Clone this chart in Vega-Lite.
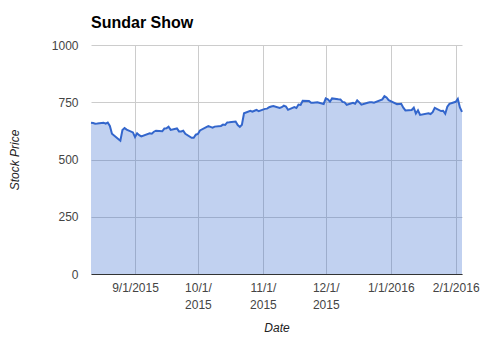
{
  "$schema": "https://vega.github.io/schema/vega-lite/v6.json",
  "autosize": "none",
  "width": 371,
  "height": 229,
  "padding": {"left": 91, "top": 45, "right": 28, "bottom": 63},
  "background": "white",
  "config": {
    "font": "Liberation Sans, Arial, sans-serif",
    "view": {"stroke": null}
  },
  "title": {
    "text": "Sundar Show",
    "anchor": "start",
    "frame": "group",
    "fontSize": 16,
    "fontWeight": "bold",
    "color": "#000000",
    "baseline": "alphabetic",
    "offset": -5
  },
  "data": {
    "values": [
      {"date": "2015-08-11", "price": 660.78},
      {"date": "2015-08-12", "price": 659.56},
      {"date": "2015-08-13", "price": 656.45},
      {"date": "2015-08-14", "price": 657.12},
      {"date": "2015-08-17", "price": 660.87},
      {"date": "2015-08-18", "price": 656.13},
      {"date": "2015-08-19", "price": 660.90},
      {"date": "2015-08-20", "price": 646.83},
      {"date": "2015-08-21", "price": 612.48},
      {"date": "2015-08-24", "price": 589.61},
      {"date": "2015-08-25", "price": 582.06},
      {"date": "2015-08-26", "price": 628.62},
      {"date": "2015-08-27", "price": 637.61},
      {"date": "2015-08-28", "price": 630.38},
      {"date": "2015-08-31", "price": 618.25},
      {"date": "2015-09-01", "price": 597.79},
      {"date": "2015-09-02", "price": 614.34},
      {"date": "2015-09-03", "price": 606.25},
      {"date": "2015-09-04", "price": 600.70},
      {"date": "2015-09-08", "price": 614.66},
      {"date": "2015-09-09", "price": 612.72},
      {"date": "2015-09-10", "price": 621.35},
      {"date": "2015-09-11", "price": 625.77},
      {"date": "2015-09-14", "price": 623.24},
      {"date": "2015-09-15", "price": 635.14},
      {"date": "2015-09-16", "price": 635.98},
      {"date": "2015-09-17", "price": 642.90},
      {"date": "2015-09-18", "price": 629.25},
      {"date": "2015-09-21", "price": 635.44},
      {"date": "2015-09-22", "price": 622.69},
      {"date": "2015-09-23", "price": 622.36},
      {"date": "2015-09-24", "price": 625.80},
      {"date": "2015-09-25", "price": 611.97},
      {"date": "2015-09-28", "price": 594.89},
      {"date": "2015-09-29", "price": 594.97},
      {"date": "2015-09-30", "price": 608.42},
      {"date": "2015-10-01", "price": 611.29},
      {"date": "2015-10-02", "price": 626.91},
      {"date": "2015-10-05", "price": 641.47},
      {"date": "2015-10-06", "price": 645.44},
      {"date": "2015-10-07", "price": 642.36},
      {"date": "2015-10-08", "price": 639.16},
      {"date": "2015-10-09", "price": 643.61},
      {"date": "2015-10-12", "price": 646.67},
      {"date": "2015-10-13", "price": 652.30},
      {"date": "2015-10-14", "price": 651.16},
      {"date": "2015-10-15", "price": 661.74},
      {"date": "2015-10-16", "price": 662.20},
      {"date": "2015-10-19", "price": 666.10},
      {"date": "2015-10-20", "price": 650.28},
      {"date": "2015-10-21", "price": 642.61},
      {"date": "2015-10-22", "price": 651.79},
      {"date": "2015-10-23", "price": 702.00},
      {"date": "2015-10-26", "price": 712.78},
      {"date": "2015-10-27", "price": 708.49},
      {"date": "2015-10-28", "price": 712.95},
      {"date": "2015-10-29", "price": 716.92},
      {"date": "2015-10-30", "price": 710.81},
      {"date": "2015-11-02", "price": 721.11},
      {"date": "2015-11-03", "price": 722.16},
      {"date": "2015-11-04", "price": 728.11},
      {"date": "2015-11-05", "price": 731.25},
      {"date": "2015-11-06", "price": 733.76},
      {"date": "2015-11-09", "price": 724.89},
      {"date": "2015-11-10", "price": 728.32},
      {"date": "2015-11-11", "price": 735.40},
      {"date": "2015-11-12", "price": 731.23},
      {"date": "2015-11-13", "price": 717.00},
      {"date": "2015-11-16", "price": 728.96},
      {"date": "2015-11-17", "price": 725.30},
      {"date": "2015-11-18", "price": 740.00},
      {"date": "2015-11-19", "price": 738.41},
      {"date": "2015-11-20", "price": 756.60},
      {"date": "2015-11-23", "price": 755.98},
      {"date": "2015-11-24", "price": 748.28},
      {"date": "2015-11-25", "price": 748.15},
      {"date": "2015-11-27", "price": 750.26},
      {"date": "2015-11-30", "price": 742.60},
      {"date": "2015-12-01", "price": 767.04},
      {"date": "2015-12-02", "price": 762.38},
      {"date": "2015-12-03", "price": 752.54},
      {"date": "2015-12-04", "price": 766.81},
      {"date": "2015-12-07", "price": 763.25},
      {"date": "2015-12-08", "price": 762.37},
      {"date": "2015-12-09", "price": 751.61},
      {"date": "2015-12-10", "price": 749.46},
      {"date": "2015-12-11", "price": 738.87},
      {"date": "2015-12-14", "price": 747.77},
      {"date": "2015-12-15", "price": 743.40},
      {"date": "2015-12-16", "price": 758.09},
      {"date": "2015-12-17", "price": 749.43},
      {"date": "2015-12-18", "price": 739.31},
      {"date": "2015-12-21", "price": 747.77},
      {"date": "2015-12-22", "price": 750.00},
      {"date": "2015-12-23", "price": 750.31},
      {"date": "2015-12-24", "price": 748.40},
      {"date": "2015-12-28", "price": 762.51},
      {"date": "2015-12-29", "price": 776.60},
      {"date": "2015-12-30", "price": 771.00},
      {"date": "2015-12-31", "price": 758.88},
      {"date": "2016-01-04", "price": 741.84},
      {"date": "2016-01-05", "price": 742.58},
      {"date": "2016-01-06", "price": 743.62},
      {"date": "2016-01-07", "price": 726.39},
      {"date": "2016-01-08", "price": 714.47},
      {"date": "2016-01-11", "price": 716.03},
      {"date": "2016-01-12", "price": 726.07},
      {"date": "2016-01-13", "price": 700.56},
      {"date": "2016-01-14", "price": 714.72},
      {"date": "2016-01-15", "price": 694.45},
      {"date": "2016-01-19", "price": 701.79},
      {"date": "2016-01-20", "price": 698.45},
      {"date": "2016-01-21", "price": 706.59},
      {"date": "2016-01-22", "price": 725.25},
      {"date": "2016-01-25", "price": 711.67},
      {"date": "2016-01-26", "price": 713.04},
      {"date": "2016-01-27", "price": 699.99},
      {"date": "2016-01-28", "price": 730.96},
      {"date": "2016-01-29", "price": 742.95},
      {"date": "2016-02-01", "price": 752.00},
      {"date": "2016-02-02", "price": 764.65},
      {"date": "2016-02-03", "price": 726.95},
      {"date": "2016-02-04", "price": 708.01}
    ]
  },
  "encoding": {
    "x": {
      "field": "date",
      "type": "temporal",
      "scale": {"type": "utc", "nice": false},
      "axis": {
        "title": "Date",
        "values": [
          {"year": 2015, "month": 9, "date": 1, "utc": true},
          {"year": 2015, "month": 10, "date": 1, "utc": true},
          {"year": 2015, "month": 11, "date": 1, "utc": true},
          {"year": 2015, "month": 12, "date": 1, "utc": true},
          {"year": 2016, "month": 1, "date": 1, "utc": true},
          {"year": 2016, "month": 2, "date": 1, "utc": true}
        ],
        "labelExpr": "utcmonth(datum.value) >= 9 ? [utcFormat(datum.value, '%-m/%-d/'), utcFormat(datum.value, '%Y')] : utcFormat(datum.value, '%-m/%-d/%Y')",
        "labelFontSize": 12,
        "labelColor": "#444444",
        "labelPadding": 8,
        "labelLineHeight": 17,
        "labelOverlap": false,
        "labelFlush": false,
        "labelBound": false,
        "ticks": false,
        "grid": true,
        "gridColor": "#cccccc",
        "domain": true,
        "domainColor": "#333333",
        "domainWidth": 1,
        "titleFontSize": 12,
        "titleFontStyle": "italic",
        "titleFontWeight": "normal",
        "titleColor": "#222222",
        "titlePadding": 12
      }
    },
    "y": {
      "field": "price",
      "type": "quantitative",
      "scale": {"domain": [0, 1000], "nice": false},
      "axis": {
        "title": "Stock Price",
        "values": [0, 250, 500, 750, 1000],
        "format": "d",
        "labelFontSize": 12,
        "labelColor": "#444444",
        "labelPadding": 13,
        "ticks": false,
        "domain": false,
        "grid": true,
        "gridColor": "#cccccc",
        "titleFontSize": 12,
        "titleFontStyle": "italic",
        "titleFontWeight": "normal",
        "titleColor": "#222222",
        "titlePadding": 30
      }
    }
  },
  "layer": [
    {"mark": {"type": "area", "color": "#3366cc", "fillOpacity": 0.3}},
    {"mark": {"type": "line", "color": "#3366cc", "strokeWidth": 2}}
  ]
}
